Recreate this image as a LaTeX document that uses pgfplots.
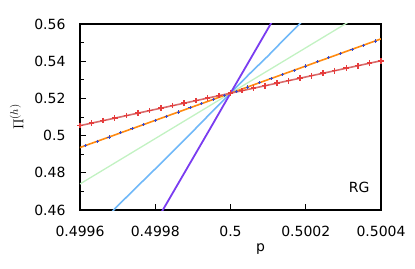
\documentclass[border=0pt]{standalone}
\usepackage{pgfplots}
\pgfplotsset{compat=1.18}
\usepackage{fontspec}
\setmainfont{DejaVu Sans}
\definecolor{cred}{HTML}{D86A6A}
\definecolor{credm}{HTML}{E63C3C}
\definecolor{corange}{HTML}{FF8A10}
\definecolor{cbluem}{HTML}{3848C8}
\definecolor{cgreen}{HTML}{C2F2C2}
\definecolor{cblue}{HTML}{70B8F8}
\definecolor{cpurple}{HTML}{7A3CF0}
\begin{document}
\begin{tikzpicture}
\begin{axis}[
  scale only axis, width=301pt, height=186pt,
  xmin=0.4996, xmax=0.5004, ymin=0.46, ymax=0.56,
  scaled ticks=false,
  xtick={0.4996,0.4998,0.5,0.5002,0.5004},
  xticklabels={0.4996,0.4998,0.5,0.5002,0.5004},
  ytick={0.46,0.48,0.5,0.52,0.54,0.56},
  yticklabels={0.46,0.48,0.5,0.52,0.54,0.56},
  minor ytick={0.47,0.49,0.51,0.53,0.55},
  tick pos=left, tick align=inside,
  major tick length=6pt, minor tick length=4pt,
  every tick/.style={black, line width=1pt},
  axis line style={line width=1.3pt},
  tick label style={font=\fontsize{14}{16}\selectfont},
  yticklabel style={xshift=-11pt},
  xticklabel style={yshift=-13pt},
  label style={font=\fontsize{14}{16}\selectfont},
  xlabel={p},
  xlabel style={at={(rel axis cs:0.6,0)}, anchor=north, yshift=-30pt},
  ylabel={$\Pi^{(h)}$},
  ylabel style={font=\fontsize{15.5}{17}\selectfont, yshift=4pt},
]
\addplot[cgreen, line width=1.3pt] coordinates {(0.4996,0.4740) (0.5,0.5228) (0.5004,0.5716)};
\addplot[cblue, line width=1.6pt] coordinates {
(0.49965,0.45175) (0.4997,0.4622) (0.49975,0.4722) (0.4998,0.4821) (0.49985,0.4921)
(0.4999,0.5023) (0.49995,0.51265) (0.5,0.5228) (0.50005,0.5331) (0.5001,0.5429)
(0.50015,0.5533) (0.5002,0.5634)};
\addplot[cpurple, line width=1.8pt] coordinates {(0.4998,0.4530) (0.49995,0.5052) (0.5,0.5228) (0.50005,0.5402) (0.5002,0.5926)};
\addplot[corange, line width=1.6pt, mark=+, mark size=1.6pt, mark options={cbluem, line width=0.8pt}] coordinates {
(0.49958462,0.49248) (0.49961538,0.49472) (0.49964615,0.49697) (0.49967692,0.49921)
(0.49970769,0.50146) (0.49973846,0.50371) (0.49976923,0.50595) (0.4998,0.50820)
(0.49983077,0.51045) (0.49986154,0.51269) (0.49989231,0.51494) (0.49992308,0.51718)
(0.49995385,0.51943) (0.49998462,0.52168) (0.50001538,0.52392) (0.50004615,0.52617)
(0.50007692,0.52842) (0.50010769,0.53066) (0.50013846,0.53291) (0.50016923,0.53515)
(0.5002,0.53740) (0.50023077,0.53965) (0.50026154,0.54189) (0.50029231,0.54414)
(0.50032308,0.54639) (0.50035385,0.54863) (0.50038462,0.55088) (0.50041538,0.55312)};
\addplot[cred, line width=1.6pt, mark=+, mark size=2.8pt, mark options={credm, line width=1.5pt}] coordinates {
(0.4996,0.50536) (0.49963077,0.50670) (0.49966154,0.50804) (0.49969231,0.50938)
(0.49972308,0.51073) (0.49975385,0.51207) (0.49978462,0.51341) (0.49981538,0.51475)
(0.49984615,0.51609) (0.49987692,0.51743) (0.49990769,0.51878) (0.49993846,0.52012)
(0.49996923,0.52146) (0.5,0.52280) (0.50003077,0.52414) (0.50006154,0.52548)
(0.50009231,0.52682) (0.50012308,0.52817) (0.50015385,0.52951) (0.50018462,0.53085)
(0.50021538,0.53219) (0.50024615,0.53353) (0.50027692,0.53487) (0.50030769,0.53622)
(0.50033846,0.53756) (0.50036923,0.53890) (0.5004,0.54024)};
\node[anchor=south east, font=\fontsize{14}{16}\selectfont] at (rel axis cs:1,0) [xshift=-8pt, yshift=14pt] {RG};
\end{axis}
\path (current axis.south west) ++(-80pt,-58pt) rectangle ++(415pt,268pt);
\end{tikzpicture}
\end{document}
